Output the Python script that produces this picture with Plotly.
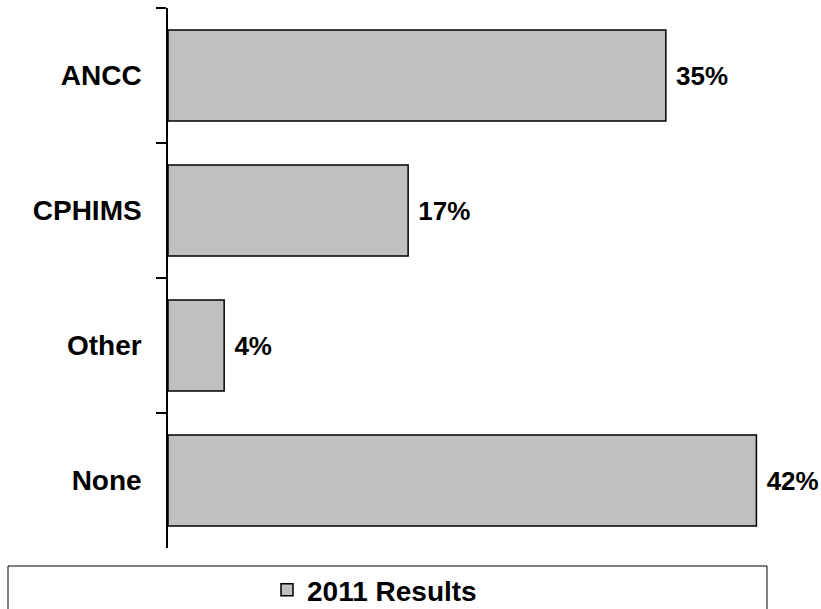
import plotly.graph_objects as go

categories = ["ANCC", "CPHIMS", "Other", "None"]
values = [35.45, 17.1, 4.0, 41.9]
series_name = "2011 Results"

FONT = "Liberation Sans, Arial, sans-serif"
BAR_FILL = "#C0C0C0"

fig = go.Figure()
fig.add_trace(go.Bar(
    y=categories,
    x=values,
    orientation="h",
    name=series_name,
    marker=dict(color=BAR_FILL, line=dict(color="black", width=1.5)),
    texttemplate="\u00a0%{x:.0f}%",
    textposition="outside",
    textfont=dict(family=FONT, size=26, color="black", weight="bold"),
    cliponaxis=False,
    showlegend=True,
))

# legend frame (x from 8 to 767 px, top at 566 px, bottom beyond the page)
fx0, fx1 = (8 - 168) / 646, (767 - 168) / 646
fy_top = (609 - 61 - 566) / 540
fy_bot = (609 - 61 - 640) / 540
frame = dict(xref="paper", yref="paper", type="line",
             line=dict(color="black", width=1))

fig.update_layout(
    width=821,
    height=609,
    margin=dict(l=168, r=7, t=8, b=61),
    paper_bgcolor="white",
    plot_bgcolor="white",
    bargap=0.326,
    font=dict(family=FONT, size=26, color="black"),
    xaxis=dict(range=[0, 46], visible=False, showgrid=False, zeroline=False),
    yaxis=dict(
        autorange="reversed",
        showline=True,
        linecolor="black",
        linewidth=1.5,
        ticks="outside",
        tickson="boundaries",
        ticklen=10,
        tickwidth=1.5,
        tickcolor="black",
        showgrid=False,
        tickfont=dict(family=FONT, size=28, color="black", weight="bold"),
        ticklabelstandoff=19,
    ),
    showlegend=True,
    legend=dict(
        orientation="h",
        xref="container",
        yref="container",
        x=267 / 821,
        xanchor="left",
        y=(609 - 590) / 609,
        yanchor="middle",
        font=dict(family=FONT, size=28, color="black", weight="bold"),
        bgcolor="rgba(0,0,0,0)",
        borderwidth=0,
    ),
    shapes=[
        dict(frame, x0=fx0, x1=fx1, y0=fy_top, y1=fy_top),
        dict(frame, x0=fx0, x1=fx0, y0=fy_top, y1=fy_bot),
        dict(frame, x0=fx1, x1=fx1, y0=fy_top, y1=fy_bot),
    ],
)

fig.write_html("out.html")
